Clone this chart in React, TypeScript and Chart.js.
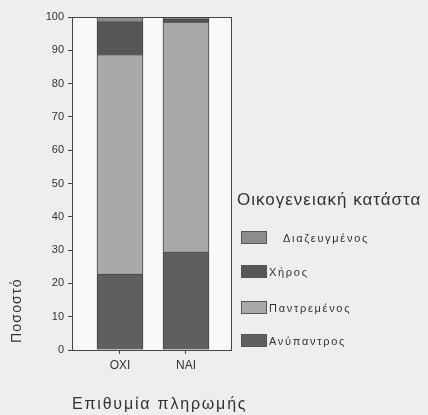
import React, { useEffect, useRef } from "react";
import { Chart, registerables } from "chart.js";

Chart.register(...registerables);

// Categories on the x axis (Επιθυμία πληρωμής)
const categories = ["ΟΧΙ", "ΝΑΙ"];

// Percentage of each marital status per category, stacked bottom to top
const anypantros = [22.8, 29.5];
const pantremenos = [65.9, 69.0];
const chiros = [9.9, 0.9];
const diazeugmenos = [1.4, 0.6];

const yTicks = [0, 10, 20, 30, 40, 50, 60, 70, 80, 90, 100];

const seriesNames = ["Ανύπαντρος", "Παντρεμένος", "Χήρος", "Διαζευγμένος"];
const seriesValues = [anypantros, pantremenos, chiros, diazeugmenos];
const seriesColors = ["#5f5f5f", "#a9a9a9", "#565656", "#8c8c8c"];

const legendTitle = "Οικογενειακή κατάστα";
const xTitle = "Επιθυμία πληρωμής";
const yTitle = "Ποσοστό";

const FONT = "'Liberation Sans', Arial, sans-serif";

const backgroundPlugin = {
  id: "paperBackground",
  beforeDraw(chart: any) {
    const { ctx, chartArea } = chart;
    ctx.save();
    ctx.fillStyle = "#eeeeec";
    ctx.fillRect(0, 0, chart.width, chart.height);
    ctx.fillStyle = "#f9f9f7";
    ctx.fillRect(chartArea.left, chartArea.top, chartArea.right - chartArea.left, chartArea.bottom - chartArea.top);
    ctx.restore();
  },
  afterDraw(chart: any) {
    const { ctx, chartArea } = chart;
    ctx.save();
    ctx.strokeStyle = "#444";
    ctx.lineWidth = 1;
    ctx.strokeRect(chartArea.left + 0.5, chartArea.top + 0.5, chartArea.right - chartArea.left, chartArea.bottom - chartArea.top);
    ctx.restore();
  },
};

// Axis titles drawn with spaced lettering
const axisTitlePlugin = {
  id: "axisTitles",
  afterDraw(chart: any) {
    const { ctx, chartArea } = chart;
    ctx.save();
    ctx.fillStyle = "#333";
    ctx.textBaseline = "middle";

    ctx.font = `16px ${FONT}`;
    (ctx as any).letterSpacing = "1.8px";
    ctx.textAlign = "left";
    ctx.fillText(xTitle, chartArea.left, 405);

    ctx.translate(17, chartArea.bottom - 7);
    ctx.rotate(-Math.PI / 2);
    ctx.font = `14px ${FONT}`;
    (ctx as any).letterSpacing = "1.2px";
    ctx.textAlign = "left";
    ctx.fillText(yTitle, 0, 0);
    ctx.restore();
  },
};

// Side legend: title followed by swatches listed from the top of the stack down
const sideLegendPlugin = {
  id: "sideLegend",
  afterDraw(chart: any) {
    const { ctx, chartArea } = chart;
    const x0 = chartArea.right;
    ctx.save();
    ctx.fillStyle = "#333";
    ctx.textBaseline = "middle";
    ctx.textAlign = "left";
    ctx.font = `17px ${FONT}`;
    (ctx as any).letterSpacing = "1px";
    ctx.fillText(legendTitle, x0 + 6, 200);

    const datasets = chart.data.datasets.slice().reverse();
    const rowTops = [231, 265, 301, 334];
    const textIndent = [42, 28, 28, 28];
    datasets.forEach((ds: any, i: number) => {
      const top = rowTops[i];
      ctx.fillStyle = ds.backgroundColor;
      ctx.fillRect(x0 + 10, top, 26, 13);
      ctx.strokeStyle = "#555";
      ctx.lineWidth = 1;
      ctx.strokeRect(x0 + 10.5, top + 0.5, 25, 12);
      ctx.fillStyle = "#333";
      ctx.font = `11px ${FONT}`;
      (ctx as any).letterSpacing = "1.7px";
      ctx.fillText(ds.label, x0 + 10 + textIndent[i], top + 8);
    });
    ctx.restore();
  },
};

export default function App() {
  const canvasRef = useRef<HTMLCanvasElement | null>(null);

  useEffect(() => {
    if (!canvasRef.current) return;
    const datasets = seriesNames.map((name, s) => ({
      label: name,
      data: categories.map((_, i) => ({ x: i, y: seriesValues[s][i] })),
      backgroundColor: seriesColors[s],
      borderColor: "#444",
      borderWidth: 1,
      barThickness: 46,
    }));

    const chart = new Chart(canvasRef.current, {
      type: "bar",
      data: { datasets },
      plugins: [backgroundPlugin, axisTitlePlugin, sideLegendPlugin],
      options: {
        animation: false,
        responsive: true,
        maintainAspectRatio: false,
        layout: { padding: { top: 17, right: 197, bottom: 0, left: 0 } },
        plugins: { legend: { display: false }, tooltip: { enabled: false } },
        scales: {
          x: {
            type: "linear",
            stacked: true,
            offset: false,
            min: -0.727,
            max: 1.682,
            afterBuildTicks: (scale: any) => {
              scale.ticks = categories.map((_, i) => ({ value: i }));
            },
            afterFit: (scale: any) => {
              scale.height = 65;
            },
            ticks: {
              callback: (v: any) => categories[v] ?? "",
              color: "#333",
              font: { size: 12, family: FONT },
              padding: 4,
              maxRotation: 0,
              autoSkip: false,
            },
            grid: { display: true, offset: false, drawOnChartArea: false, drawTicks: true, tickLength: 4, color: "#444" },
            border: { display: true, color: "#444" },
          },
          y: {
            stacked: true,
            min: 0,
            max: 100,
            afterBuildTicks: (scale: any) => {
              scale.ticks = yTicks.map((v) => ({ value: v }));
            },
            afterFit: (scale: any) => {
              scale.width = 72;
            },
            ticks: {
              color: "#333",
              font: { size: 11, family: FONT },
              padding: 4,
            },
            grid: { display: true, drawOnChartArea: false, drawTicks: true, tickLength: 4, color: "#444" },
            border: { display: true, color: "#444" },
          },
        },
      } as any,
    });
    return () => chart.destroy();
  }, []);

  return (
    <div style={{ position: "fixed", left: 0, top: 0, width: 428, height: 415 }}>
      <canvas ref={canvasRef} />
    </div>
  );
}
